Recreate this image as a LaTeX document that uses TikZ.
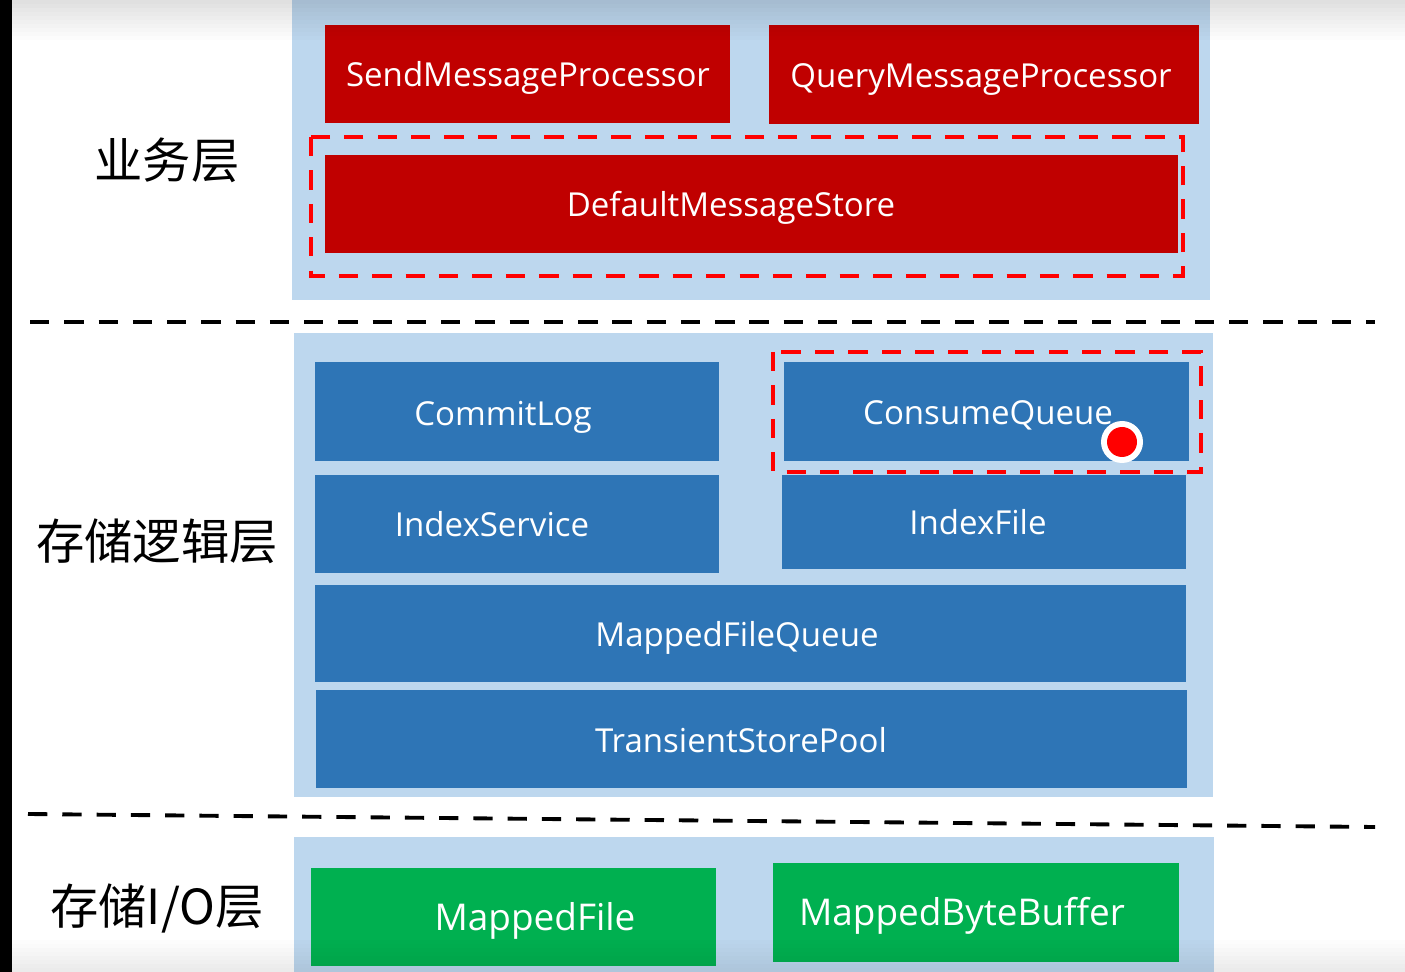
\documentclass[tikz,border=0pt]{standalone}
\usepackage{fontspec}
\setmainfont{Open Sans}
\newfontfamily\cjkfont{Noto Sans CJK SC}
\usepackage{tikz}

\definecolor{panelblue}{HTML}{BDD7EE}
\definecolor{bizred}{HTML}{C00000}
\definecolor{logicblue}{HTML}{2E75B6}
\definecolor{iogreen}{HTML}{00B050}
\definecolor{markred}{HTML}{FF0000}

\tikzset{
  blocktext/.style={inner sep=0pt, anchor=base, text=white, font=\fontsize{18.8}{20}\selectfont},
  iotext/.style={blocktext, font=\fontsize{21}{23}\selectfont},
  layername/.style={font=\cjkfont\fontsize{27.5}{30}\selectfont, text=black},
  hilite/.style={draw=markred, line width=2.2pt, dash pattern=on 11pt off 8pt},
  layersep/.style={draw=black, line width=2.2pt, dash pattern=on 11pt off 8.5pt},
}

\begin{document}
\begin{tikzpicture}[x=0.02cm, y=-0.02cm]
  \useasboundingbox (0,0) rectangle (1405,972);
  % --- screen ------------------------------------------------------
  \fill[white] (0,0) rectangle (1405,972);
  \fill[black] (0,0) rectangle (12,972);
  % --- panels ------------------------------------------------------
  \fill[panelblue] (292,0) rectangle (1210,300);     % business
  \fill[panelblue] (294,333) rectangle (1213,797);   % storage logic
  \fill[panelblue] (294,837) rectangle (1214,972);   % storage I/O
  % --- business layer ----------------------------------------------
  \node[layername] (bizname) at (167,160) {业务层};
  \fill[bizred] (325,25) rectangle (730,123);
  \fill[bizred] (769,25) rectangle (1199,124);
  \fill[bizred] (325,155) rectangle (1178,253);
  \node[blocktext] (send)  at (528,87)  {SendMessageProcessor};
  \node[blocktext] (query) at (981,88)  {QueryMessageProcessor};
  \node[blocktext] (store) at (731,217) {DefaultMessageStore};
  \draw[hilite] (311,137) rectangle (1183,276);
  % --- layer separators --------------------------------------------
  \draw[layersep] (30,322) -- (1375,322);
  \draw[layersep] (28,814) -- (1375,827);
  % --- storage logic layer -----------------------------------------
  \node[layername] (logicname) at (157,541) {存储逻辑层};
  \fill[logicblue] (315,362) rectangle (719,461);
  \fill[logicblue] (784,362) rectangle (1189,461);
  \fill[logicblue] (315,475) rectangle (719,573);
  \fill[logicblue] (782,475) rectangle (1186,569);
  \fill[logicblue] (315,585) rectangle (1186,682);
  \fill[logicblue] (316,690) rectangle (1187,788);
  \node[blocktext] (commitlog) at (503,426) {CommitLog};
  \node[blocktext] (consumeq)  at (988,425) {ConsumeQueue};
  \node[blocktext] (indexsvc)  at (492,537) {IndexService};
  \node[blocktext] (indexfile) at (978,534) {IndexFile};
  \node[blocktext] (mfqueue)   at (737,646) {MappedFileQueue};
  \node[blocktext] (tspool)    at (741,752) {TransientStorePool};
  \draw[hilite] (773,352) rectangle (1201,472);
  % pointer dot
  \fill[white] (1122,442) circle (21);
  \fill[markred] (1122,442) circle (15);
  % --- storage I/O layer -------------------------------------------
  \node[layername] (ioname) at (157,908) {存储I/O层};
  \fill[iogreen] (311,868) rectangle (716,966);
  \fill[iogreen] (773,863) rectangle (1179,962);
  \node[iotext] (mfile)   at (535,930) {MappedFile};
  \node[iotext] (mbuffer) at (962,925) {MappedByteBuffer};
  % --- screen shading top and bottom -------------------------------
  \foreach \i [evaluate=\i as \o using {0.012*(10-\i)}] in {0,...,9}
    \fill[black, opacity=\o] (12,4*\i) rectangle (1405,4*\i+4);
  \foreach \i [evaluate=\i as \o using {0.01*(\i+1)}] in {0,...,7}
    \fill[black, opacity=\o] (12,940+4*\i) rectangle (1405,944+4*\i);
\end{tikzpicture}
\end{document}
